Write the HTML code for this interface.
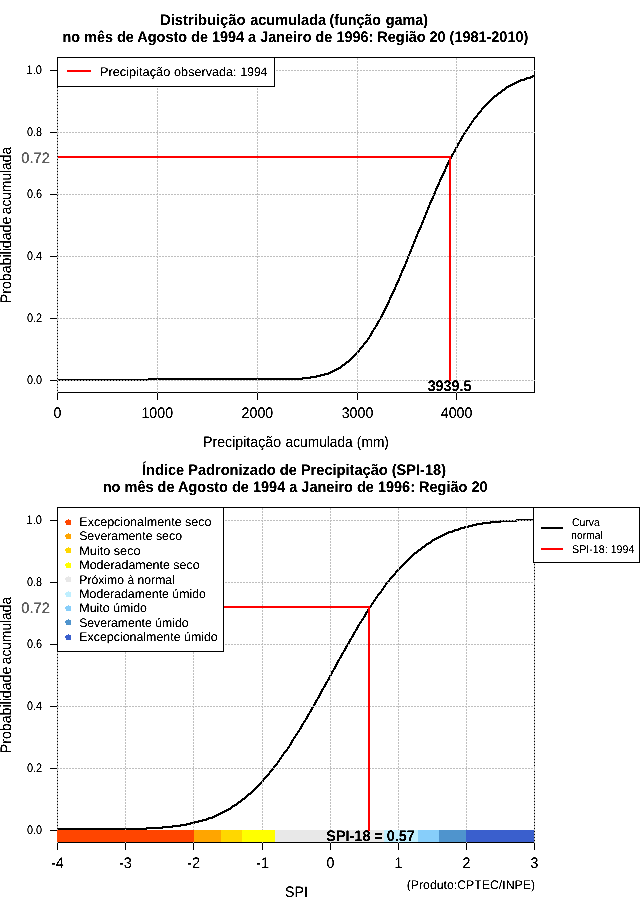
<!DOCTYPE html>
<html lang="pt"><head><meta charset="utf-8"><title>SPI-18</title>
<style>
html,body{margin:0;padding:0;background:#fff}
body{width:640px;height:900px;overflow:hidden}
svg{display:block;font-family:"Liberation Sans",Arial,Helvetica,sans-serif;fill:#000}
text{stroke:#000;stroke-width:0px;text-rendering:geometricPrecision}
.k{fill:#000;shape-rendering:crispEdges}
.bx{stroke:#000;stroke-width:1;fill:none;shape-rendering:crispEdges}
.g{stroke:#bebebe;stroke-width:1;fill:none;stroke-dasharray:2 1;shape-rendering:crispEdges}
.c{stroke:#000;stroke-width:2.15;fill:none;stroke-linejoin:round;shape-rendering:crispEdges}
.r{fill:#ff0000;shape-rendering:crispEdges}
.lb{fill:#fff;stroke:#000;stroke-width:1;shape-rendering:crispEdges}
</style></head><body>
<svg width="640" height="900" viewBox="0 0 640 900">
<defs><filter id="bw" x="0" y="0" width="640" height="900" filterUnits="userSpaceOnUse" color-interpolation-filters="sRGB"><feComponentTransfer><feFuncA type="linear" slope="3" intercept="-0.8"/></feComponentTransfer></filter></defs>
<rect width="640" height="900" fill="#fff"/>
<rect class="bx" x="57.5" y="57.5" width="477" height="335"/>
<path class="k" d="M532 75h3v1h-3zM530 76h5v1h-5zM526 77h7v1h-7zM524 78h7v1h-7zM520 79h7v1h-7zM518 80h7v1h-7zM516 81h5v1h-5zM514 82h5v1h-5zM512 83h5v1h-5zM510 84h5v1h-5zM508 85h5v1h-5zM506 86h5v1h-5zM505 87h4v1h-4zM504 88h3v1h-3zM502 89h4v1h-4zM501 90h4v1h-4zM500 91h3v1h-3zM498 92h4v1h-4zM497 93h4v1h-4zM496 94h3v1h-3zM494 95h4v1h-4zM493 96h4v1h-4zM492 97h3v1h-3zM491 98h3v1h-3zM490 99h3v1h-3zM489 100h3v1h-3zM488 101h3v1h-3zM487 102h3v1h-3zM486 103h3v1h-3zM485 104h3v1h-3zM484 105h3v1h-3zM483 106h3v1h-3zM482 107h3v1h-3zM481 108h3v1h-3zM481 109h2v1h-2zM480 110h2v1h-2zM479 111h3v1h-3zM478 112h3v1h-3zM477 113h3v1h-3zM477 114h2v1h-2zM476 115h2v1h-2zM475 116h3v1h-3zM474 117h3v1h-3zM473 118h3v1h-3zM473 119h2v1h-2zM472 120h2v1h-2zM471 121h3v1h-3zM471 122h2v1h-2zM470 123h2v1h-2zM469 124h3v1h-3zM469 125h2v1h-2zM468 126h2v1h-2zM467 127h3v1h-3zM467 128h2v1h-2zM466 129h2v1h-2zM465 130h3v1h-3zM465 131h2v1h-2zM464 132h2v1h-2zM463 133h3v1h-3zM463 134h2v1h-2zM462 135h2v1h-2zM461 136h3v1h-3zM461 137h2v1h-2zM460 138h3v1h-3zM460 139h2v1h-2zM459 140h3v1h-3zM459 141h2v1h-2zM458 142h2v1h-2zM457 143h3v1h-3zM457 144h2v1h-2zM456 145h3v1h-3zM456 146h2v1h-2zM455 147h3v1h-3zM455 148h2v1h-2zM454 149h3v1h-3zM454 150h2v1h-2zM453 151h3v1h-3zM453 152h2v1h-2zM452 153h2v1h-2zM451 154h3v1h-3zM451 155h2v1h-2zM450 156h3v1h-3zM450 157h2v1h-2zM449 158h3v1h-3zM449 159h2v1h-2zM448 160h3v1h-3zM448 161h2v1h-2zM447 162h3v1h-3zM447 163h2v1h-2zM446 164h3v1h-3zM446 165h2v1h-2zM445 166h3v1h-3zM445 167h2v1h-2zM445 168h2v1h-2zM444 169h2v1h-2zM444 170h2v1h-2zM443 171h3v1h-3zM443 172h2v1h-2zM442 173h3v1h-3zM442 174h2v1h-2zM441 175h3v1h-3zM441 176h2v1h-2zM440 177h3v1h-3zM440 178h2v1h-2zM439 179h3v1h-3zM439 180h2v1h-2zM439 181h2v1h-2zM438 182h2v1h-2zM438 183h2v1h-2zM437 184h3v1h-3zM437 185h2v1h-2zM436 186h3v1h-3zM436 187h2v1h-2zM435 188h3v1h-3zM435 189h2v1h-2zM435 190h2v1h-2zM434 191h2v1h-2zM434 192h2v1h-2zM433 193h3v1h-3zM433 194h2v1h-2zM433 195h2v1h-2zM432 196h2v1h-2zM432 197h2v1h-2zM431 198h3v1h-3zM431 199h2v1h-2zM430 200h3v1h-3zM430 201h2v1h-2zM429 202h3v1h-3zM429 203h2v1h-2zM429 204h2v1h-2zM428 205h2v1h-2zM428 206h2v1h-2zM427 207h3v1h-3zM427 208h2v1h-2zM427 209h2v1h-2zM426 210h2v1h-2zM426 211h2v1h-2zM425 212h3v1h-3zM425 213h2v1h-2zM425 214h2v1h-2zM424 215h2v1h-2zM424 216h2v1h-2zM423 217h3v1h-3zM423 218h2v1h-2zM423 219h2v1h-2zM422 220h2v1h-2zM422 221h2v1h-2zM421 222h3v1h-3zM421 223h2v1h-2zM421 224h2v1h-2zM420 225h2v1h-2zM420 226h2v1h-2zM419 227h3v1h-3zM419 228h2v1h-2zM418 229h3v1h-3zM418 230h2v1h-2zM417 231h3v1h-3zM417 232h2v1h-2zM417 233h2v1h-2zM416 234h2v1h-2zM416 235h2v1h-2zM415 236h3v1h-3zM415 237h2v1h-2zM415 238h2v1h-2zM414 239h2v1h-2zM414 240h2v1h-2zM413 241h3v1h-3zM413 242h2v1h-2zM413 243h2v1h-2zM412 244h2v1h-2zM412 245h2v1h-2zM411 246h3v1h-3zM411 247h2v1h-2zM411 248h2v1h-2zM410 249h2v1h-2zM410 250h2v1h-2zM409 251h3v1h-3zM409 252h2v1h-2zM409 253h2v1h-2zM408 254h2v1h-2zM408 255h2v1h-2zM407 256h3v1h-3zM407 257h2v1h-2zM407 258h2v1h-2zM406 259h2v1h-2zM406 260h2v1h-2zM405 261h3v1h-3zM405 262h2v1h-2zM405 263h2v1h-2zM404 264h2v1h-2zM404 265h2v1h-2zM403 266h3v1h-3zM403 267h2v1h-2zM402 268h3v1h-3zM402 269h2v1h-2zM401 270h3v1h-3zM401 271h2v1h-2zM401 272h2v1h-2zM400 273h2v1h-2zM400 274h2v1h-2zM399 275h3v1h-3zM399 276h2v1h-2zM399 277h2v1h-2zM398 278h2v1h-2zM398 279h2v1h-2zM397 280h3v1h-3zM397 281h2v1h-2zM396 282h3v1h-3zM396 283h2v1h-2zM395 284h3v1h-3zM395 285h2v1h-2zM395 286h2v1h-2zM394 287h2v1h-2zM394 288h2v1h-2zM393 289h3v1h-3zM393 290h2v1h-2zM392 291h3v1h-3zM392 292h2v1h-2zM391 293h3v1h-3zM391 294h2v1h-2zM390 295h3v1h-3zM390 296h2v1h-2zM389 297h3v1h-3zM389 298h2v1h-2zM389 299h2v1h-2zM388 300h2v1h-2zM388 301h2v1h-2zM387 302h3v1h-3zM387 303h2v1h-2zM386 304h3v1h-3zM386 305h2v1h-2zM385 306h3v1h-3zM385 307h2v1h-2zM384 308h3v1h-3zM384 309h2v1h-2zM383 310h3v1h-3zM383 311h2v1h-2zM382 312h3v1h-3zM382 313h2v1h-2zM381 314h3v1h-3zM381 315h2v1h-2zM380 316h3v1h-3zM380 317h2v1h-2zM379 318h3v1h-3zM379 319h2v1h-2zM378 320h2v1h-2zM377 321h3v1h-3zM377 322h2v1h-2zM376 323h3v1h-3zM376 324h2v1h-2zM375 325h3v1h-3zM375 326h2v1h-2zM374 327h2v1h-2zM373 328h3v1h-3zM373 329h2v1h-2zM372 330h2v1h-2zM371 331h3v1h-3zM371 332h2v1h-2zM370 333h3v1h-3zM370 334h2v1h-2zM369 335h3v1h-3zM369 336h2v1h-2zM368 337h2v1h-2zM367 338h3v1h-3zM367 339h2v1h-2zM366 340h2v1h-2zM365 341h3v1h-3zM364 342h3v1h-3zM363 343h3v1h-3zM363 344h2v1h-2zM362 345h2v1h-2zM361 346h3v1h-3zM360 347h3v1h-3zM359 348h3v1h-3zM359 349h2v1h-2zM358 350h2v1h-2zM357 351h3v1h-3zM356 352h3v1h-3zM355 353h3v1h-3zM354 354h3v1h-3zM353 355h3v1h-3zM352 356h3v1h-3zM351 357h3v1h-3zM350 358h3v1h-3zM349 359h3v1h-3zM348 360h3v1h-3zM346 361h4v1h-4zM345 362h4v1h-4zM344 363h3v1h-3zM342 364h4v1h-4zM341 365h4v1h-4zM340 366h3v1h-3zM338 367h4v1h-4zM336 368h5v1h-5zM334 369h5v1h-5zM332 370h5v1h-5zM330 371h5v1h-5zM328 372h5v1h-5zM324 373h7v1h-7zM320 374h9v1h-9zM316 375h9v1h-9zM310 376h11v1h-11zM302 377h15v1h-15zM148 378h163v1h-163zM58 379h245v1h-245zM57 380h92v1h-92z"/>
<rect class="k" x="57" y="393" width="1" height="7"/>
<rect class="k" x="157" y="393" width="1" height="7"/>
<rect class="k" x="257" y="393" width="1" height="7"/>
<rect class="k" x="357" y="393" width="1" height="7"/>
<rect class="k" x="456" y="393" width="1" height="7"/>
<rect class="k" x="50" y="380" width="7" height="1"/>
<rect class="k" x="50" y="318" width="7" height="1"/>
<rect class="k" x="50" y="256" width="7" height="1"/>
<rect class="k" x="50" y="194" width="7" height="1"/>
<rect class="k" x="50" y="132" width="7" height="1"/>
<rect class="k" x="50" y="70" width="7" height="1"/>
<line class="g" x1="57.5" y1="393" x2="57.5" y2="57"/>
<line class="g" x1="157.5" y1="393" x2="157.5" y2="57"/>
<line class="g" x1="257.5" y1="393" x2="257.5" y2="57"/>
<line class="g" x1="357.5" y1="393" x2="357.5" y2="57"/>
<line class="g" x1="456.5" y1="393" x2="456.5" y2="57"/>
<line class="g" x1="57" y1="380.5" x2="535" y2="380.5"/>
<line class="g" x1="57" y1="318.5" x2="535" y2="318.5"/>
<line class="g" x1="57" y1="256.5" x2="535" y2="256.5"/>
<line class="g" x1="57" y1="194.5" x2="535" y2="194.5"/>
<line class="g" x1="57" y1="132.5" x2="535" y2="132.5"/>
<line class="g" x1="57" y1="70.5" x2="535" y2="70.5"/>
<rect class="r" x="58" y="156" width="392" height="2"/>
<rect class="r" x="449" y="156" width="2" height="225"/>
<rect class="lb" x="57.5" y="57.5" width="217" height="29"/>
<rect class="r" x="67" y="70" width="24" height="2"/>
<rect class="bx" x="57.5" y="507.5" width="477" height="335"/>
<path class="k" d="M516 519h19v1h-19zM500 520h35v1h-35zM490 521h27v1h-27zM482 522h19v1h-19zM476 523h15v1h-15zM472 524h11v1h-11zM468 525h9v1h-9zM464 526h9v1h-9zM460 527h9v1h-9zM458 528h7v1h-7zM454 529h7v1h-7zM452 530h7v1h-7zM448 531h7v1h-7zM446 532h7v1h-7zM444 533h5v1h-5zM442 534h5v1h-5zM440 535h5v1h-5zM438 536h5v1h-5zM436 537h5v1h-5zM434 538h5v1h-5zM432 539h5v1h-5zM431 540h4v1h-4zM430 541h3v1h-3zM428 542h4v1h-4zM426 543h5v1h-5zM425 544h4v1h-4zM424 545h3v1h-3zM422 546h4v1h-4zM421 547h4v1h-4zM420 548h3v1h-3zM418 549h4v1h-4zM417 550h4v1h-4zM416 551h3v1h-3zM414 552h4v1h-4zM413 553h4v1h-4zM412 554h3v1h-3zM411 555h3v1h-3zM410 556h3v1h-3zM409 557h3v1h-3zM408 558h3v1h-3zM407 559h3v1h-3zM406 560h3v1h-3zM405 561h3v1h-3zM404 562h3v1h-3zM403 563h3v1h-3zM402 564h3v1h-3zM401 565h3v1h-3zM400 566h3v1h-3zM399 567h3v1h-3zM398 568h3v1h-3zM397 569h3v1h-3zM396 570h3v1h-3zM395 571h3v1h-3zM395 572h2v1h-2zM394 573h2v1h-2zM393 574h3v1h-3zM392 575h3v1h-3zM391 576h3v1h-3zM390 577h3v1h-3zM389 578h3v1h-3zM389 579h2v1h-2zM388 580h2v1h-2zM387 581h3v1h-3zM386 582h3v1h-3zM385 583h3v1h-3zM385 584h2v1h-2zM384 585h2v1h-2zM383 586h3v1h-3zM383 587h2v1h-2zM382 588h2v1h-2zM381 589h3v1h-3zM381 590h2v1h-2zM380 591h2v1h-2zM379 592h3v1h-3zM378 593h3v1h-3zM377 594h3v1h-3zM377 595h2v1h-2zM376 596h2v1h-2zM375 597h3v1h-3zM375 598h2v1h-2zM374 599h2v1h-2zM373 600h3v1h-3zM373 601h2v1h-2zM372 602h2v1h-2zM371 603h3v1h-3zM371 604h2v1h-2zM370 605h2v1h-2zM369 606h3v1h-3zM369 607h2v1h-2zM368 608h2v1h-2zM367 609h3v1h-3zM367 610h2v1h-2zM366 611h2v1h-2zM365 612h3v1h-3zM365 613h2v1h-2zM364 614h3v1h-3zM364 615h2v1h-2zM363 616h3v1h-3zM363 617h2v1h-2zM362 618h2v1h-2zM361 619h3v1h-3zM361 620h2v1h-2zM360 621h2v1h-2zM359 622h3v1h-3zM359 623h2v1h-2zM358 624h2v1h-2zM357 625h3v1h-3zM357 626h2v1h-2zM356 627h3v1h-3zM356 628h2v1h-2zM355 629h3v1h-3zM355 630h2v1h-2zM354 631h2v1h-2zM353 632h3v1h-3zM353 633h2v1h-2zM352 634h3v1h-3zM352 635h2v1h-2zM351 636h3v1h-3zM351 637h2v1h-2zM350 638h2v1h-2zM349 639h3v1h-3zM349 640h2v1h-2zM348 641h3v1h-3zM348 642h2v1h-2zM347 643h3v1h-3zM347 644h2v1h-2zM346 645h2v1h-2zM345 646h3v1h-3zM345 647h2v1h-2zM344 648h3v1h-3zM344 649h2v1h-2zM343 650h3v1h-3zM343 651h2v1h-2zM342 652h2v1h-2zM341 653h3v1h-3zM341 654h2v1h-2zM340 655h3v1h-3zM340 656h2v1h-2zM339 657h3v1h-3zM339 658h2v1h-2zM338 659h2v1h-2zM337 660h3v1h-3zM337 661h2v1h-2zM336 662h3v1h-3zM336 663h2v1h-2zM335 664h3v1h-3zM335 665h2v1h-2zM334 666h3v1h-3zM334 667h2v1h-2zM333 668h3v1h-3zM333 669h2v1h-2zM332 670h2v1h-2zM331 671h3v1h-3zM331 672h2v1h-2zM330 673h3v1h-3zM330 674h2v1h-2zM329 675h3v1h-3zM329 676h2v1h-2zM328 677h3v1h-3zM328 678h2v1h-2zM327 679h3v1h-3zM327 680h2v1h-2zM326 681h2v1h-2zM325 682h3v1h-3zM325 683h2v1h-2zM324 684h3v1h-3zM324 685h2v1h-2zM323 686h3v1h-3zM323 687h2v1h-2zM322 688h2v1h-2zM321 689h3v1h-3zM321 690h2v1h-2zM320 691h3v1h-3zM320 692h2v1h-2zM319 693h3v1h-3zM319 694h2v1h-2zM318 695h3v1h-3zM318 696h2v1h-2zM317 697h3v1h-3zM317 698h2v1h-2zM316 699h2v1h-2zM315 700h3v1h-3zM315 701h2v1h-2zM314 702h3v1h-3zM314 703h2v1h-2zM313 704h3v1h-3zM313 705h2v1h-2zM312 706h2v1h-2zM311 707h3v1h-3zM311 708h2v1h-2zM310 709h3v1h-3zM310 710h2v1h-2zM309 711h3v1h-3zM309 712h2v1h-2zM308 713h2v1h-2zM307 714h3v1h-3zM307 715h2v1h-2zM306 716h3v1h-3zM306 717h2v1h-2zM305 718h3v1h-3zM305 719h2v1h-2zM304 720h2v1h-2zM303 721h3v1h-3zM303 722h2v1h-2zM302 723h2v1h-2zM301 724h3v1h-3zM301 725h2v1h-2zM300 726h3v1h-3zM300 727h2v1h-2zM299 728h3v1h-3zM299 729h2v1h-2zM298 730h2v1h-2zM297 731h3v1h-3zM297 732h2v1h-2zM296 733h2v1h-2zM295 734h3v1h-3zM295 735h2v1h-2zM294 736h2v1h-2zM293 737h3v1h-3zM293 738h2v1h-2zM292 739h2v1h-2zM291 740h3v1h-3zM291 741h2v1h-2zM290 742h3v1h-3zM290 743h2v1h-2zM289 744h3v1h-3zM289 745h2v1h-2zM288 746h2v1h-2zM287 747h3v1h-3zM287 748h2v1h-2zM286 749h2v1h-2zM285 750h3v1h-3zM284 751h3v1h-3zM283 752h3v1h-3zM283 753h2v1h-2zM282 754h2v1h-2zM281 755h3v1h-3zM281 756h2v1h-2zM280 757h2v1h-2zM279 758h3v1h-3zM279 759h2v1h-2zM278 760h2v1h-2zM277 761h3v1h-3zM277 762h2v1h-2zM276 763h2v1h-2zM275 764h3v1h-3zM274 765h3v1h-3zM273 766h3v1h-3zM273 767h2v1h-2zM272 768h2v1h-2zM271 769h3v1h-3zM270 770h3v1h-3zM269 771h3v1h-3zM269 772h2v1h-2zM268 773h2v1h-2zM267 774h3v1h-3zM266 775h3v1h-3zM265 776h3v1h-3zM264 777h3v1h-3zM263 778h3v1h-3zM263 779h2v1h-2zM262 780h2v1h-2zM261 781h3v1h-3zM260 782h3v1h-3zM259 783h3v1h-3zM258 784h3v1h-3zM257 785h3v1h-3zM256 786h3v1h-3zM255 787h3v1h-3zM254 788h3v1h-3zM253 789h3v1h-3zM252 790h3v1h-3zM251 791h3v1h-3zM250 792h3v1h-3zM248 793h4v1h-4zM247 794h4v1h-4zM246 795h3v1h-3zM245 796h3v1h-3zM244 797h3v1h-3zM242 798h4v1h-4zM241 799h4v1h-4zM240 800h3v1h-3zM238 801h4v1h-4zM237 802h4v1h-4zM236 803h3v1h-3zM234 804h4v1h-4zM232 805h5v1h-5zM231 806h4v1h-4zM230 807h3v1h-3zM228 808h4v1h-4zM226 809h5v1h-5zM224 810h5v1h-5zM222 811h5v1h-5zM220 812h5v1h-5zM218 813h5v1h-5zM216 814h5v1h-5zM214 815h5v1h-5zM212 816h5v1h-5zM208 817h7v1h-7zM206 818h7v1h-7zM202 819h7v1h-7zM198 820h9v1h-9zM194 821h9v1h-9zM190 822h9v1h-9zM186 823h9v1h-9zM180 824h11v1h-11zM172 825h15v1h-15zM162 826h19v1h-19zM146 827h27v1h-27zM58 828h105v1h-105zM57 829h90v1h-90z"/>
<rect class="k" x="57" y="843" width="1" height="7"/>
<rect class="k" x="125" y="843" width="1" height="7"/>
<rect class="k" x="193" y="843" width="1" height="7"/>
<rect class="k" x="262" y="843" width="1" height="7"/>
<rect class="k" x="330" y="843" width="1" height="7"/>
<rect class="k" x="398" y="843" width="1" height="7"/>
<rect class="k" x="466" y="843" width="1" height="7"/>
<rect class="k" x="534" y="843" width="1" height="7"/>
<rect class="k" x="50" y="830" width="7" height="1"/>
<rect class="k" x="50" y="768" width="7" height="1"/>
<rect class="k" x="50" y="706" width="7" height="1"/>
<rect class="k" x="50" y="644" width="7" height="1"/>
<rect class="k" x="50" y="582" width="7" height="1"/>
<rect class="k" x="50" y="520" width="7" height="1"/>
<line class="g" x1="57.5" y1="843" x2="57.5" y2="507"/>
<line class="g" x1="125.5" y1="843" x2="125.5" y2="507"/>
<line class="g" x1="193.5" y1="843" x2="193.5" y2="507"/>
<line class="g" x1="262.5" y1="843" x2="262.5" y2="507"/>
<line class="g" x1="330.5" y1="843" x2="330.5" y2="507"/>
<line class="g" x1="398.5" y1="843" x2="398.5" y2="507"/>
<line class="g" x1="466.5" y1="843" x2="466.5" y2="507"/>
<line class="g" x1="534.5" y1="843" x2="534.5" y2="507"/>
<line class="g" x1="57" y1="830.5" x2="535" y2="830.5"/>
<line class="g" x1="57" y1="768.5" x2="535" y2="768.5"/>
<line class="g" x1="57" y1="706.5" x2="535" y2="706.5"/>
<line class="g" x1="57" y1="644.5" x2="535" y2="644.5"/>
<line class="g" x1="57" y1="582.5" x2="535" y2="582.5"/>
<line class="g" x1="57" y1="520.5" x2="535" y2="520.5"/>
<rect x="57" y="830" width="137" height="12" fill="#ff4500" shape-rendering="crispEdges"/>
<rect x="194" y="830" width="27" height="12" fill="#ffa500" shape-rendering="crispEdges"/>
<rect x="221" y="830" width="21" height="12" fill="#ffd700" shape-rendering="crispEdges"/>
<rect x="242" y="830" width="33" height="12" fill="#ffff00" shape-rendering="crispEdges"/>
<rect x="275" y="830" width="109" height="12" fill="#e8e8e8" shape-rendering="crispEdges"/>
<rect x="384" y="830" width="34" height="12" fill="#bfefff" shape-rendering="crispEdges"/>
<rect x="418" y="830" width="21" height="12" fill="#87cefa" shape-rendering="crispEdges"/>
<rect x="439" y="830" width="27" height="12" fill="#4f94cd" shape-rendering="crispEdges"/>
<rect x="466" y="830" width="68" height="12" fill="#3a5fcd" shape-rendering="crispEdges"/>
<rect class="r" x="58" y="606" width="311" height="2"/>
<rect class="r" x="368" y="606" width="2" height="225"/>
<rect class="lb" x="57.5" y="507.5" width="166" height="144"/>
<path fill="#ff4500" shape-rendering="crispEdges" d="M66 520h5v5h-5zM65 521h1v2h-1zM68 519h1v1h-1z"/>
<path fill="#ffa500" shape-rendering="crispEdges" d="M66 534h5v5h-5zM65 535h1v2h-1zM68 533h1v1h-1z"/>
<path fill="#ffd700" shape-rendering="crispEdges" d="M66 548h5v5h-5zM65 549h1v2h-1zM68 547h1v1h-1z"/>
<path fill="#ffff00" shape-rendering="crispEdges" d="M66 563h5v5h-5zM65 564h1v2h-1zM68 562h1v1h-1z"/>
<path fill="#e8e8e8" shape-rendering="crispEdges" d="M66 577h5v5h-5zM65 578h1v2h-1zM68 576h1v1h-1z"/>
<path fill="#bfefff" shape-rendering="crispEdges" d="M66 592h5v5h-5zM65 593h1v2h-1zM68 591h1v1h-1z"/>
<path fill="#87cefa" shape-rendering="crispEdges" d="M66 606h5v5h-5zM65 607h1v2h-1zM68 605h1v1h-1z"/>
<path fill="#4f94cd" shape-rendering="crispEdges" d="M66 620h5v5h-5zM65 621h1v2h-1zM68 619h1v1h-1z"/>
<path fill="#3a5fcd" shape-rendering="crispEdges" d="M66 635h5v5h-5zM65 636h1v2h-1zM68 634h1v1h-1z"/>
<rect class="lb" x="533.5" y="507.5" width="106" height="55"/>
<rect class="k" x="541" y="527" width="22" height="2"/>
<rect class="r" x="541" y="548" width="22" height="2"/>
<g filter="url(#bw)">
<text transform="translate(26.97,383.75) scale(0.8672,1)" style="font-size:12.50px">0.0</text>
<text transform="translate(26.96,321.75) scale(0.8738,1)" style="font-size:12.50px">0.2</text>
<text transform="translate(26.97,259.75) scale(0.8606,1)" style="font-size:12.50px">0.4</text>
<text transform="translate(26.96,197.75) scale(0.8705,1)" style="font-size:12.50px">0.6</text>
<text transform="translate(26.97,135.75) scale(0.8672,1)" style="font-size:12.50px">0.8</text>
<text transform="translate(26.56,73.75) scale(0.8910,1)" style="font-size:12.50px">1.0</text>
<text transform="translate(10.75,302.00) rotate(-90) scale(0.9128,1)" style="font-size:15.28px" xml:space="preserve"><tspan x="-1.24" textLength="98.93" lengthAdjust="spacingAndGlyphs">Probabilidade </tspan><tspan x="96.28" textLength="73.56" lengthAdjust="spacingAndGlyphs">acumulada</tspan></text>
<text transform="translate(21.21,162.75) scale(0.9811,1)" style="font-size:15.00px;fill:#606060;stroke:#606060;stroke-width:0.2px">0.72</text>
<text transform="translate(53.56,417.75) scale(0.9300,1)" style="font-size:15.28px">0</text>
<text transform="translate(141.44,417.75) scale(0.9300,1)" style="font-size:15.28px">1000</text>
<text transform="translate(241.62,417.75) scale(0.9300,1)" style="font-size:15.28px">2000</text>
<text transform="translate(341.69,417.75) scale(0.9300,1)" style="font-size:15.28px">3000</text>
<text transform="translate(440.80,417.75) scale(0.9300,1)" style="font-size:15.28px">4000</text>
<text transform="translate(427.64,390.75) scale(0.9394,1)" style="font-size:15.28px;font-weight:bold;stroke:none">3939.5</text>
<text transform="translate(0,24.75) scale(0.9514,1)" style="font-size:15.28px;font-weight:bold;stroke:none" xml:space="preserve"><tspan x="168.22" textLength="94.23" lengthAdjust="spacingAndGlyphs">Distribuição </tspan><tspan x="262.95" textLength="84.11" lengthAdjust="spacingAndGlyphs">acumulada </tspan><tspan x="346.43" textLength="58.06" lengthAdjust="spacingAndGlyphs">(função </tspan><tspan x="405.44" textLength="44.57" lengthAdjust="spacingAndGlyphs">gama)</tspan></text>
<text transform="translate(62.46,41.75) scale(0.9460,1)" style="font-size:15.28px;font-weight:bold;stroke:none">no mês de Agosto de 1994 a Janeiro de 1996: Região 20 (1981-2010)</text>
<text transform="translate(0,446.75) scale(0.9117,1)" style="font-size:15.28px" xml:space="preserve"><tspan x="222.63" textLength="89.93" lengthAdjust="spacingAndGlyphs">Precipitação </tspan><tspan x="313.25" textLength="77.84" lengthAdjust="spacingAndGlyphs">acumulada </tspan><tspan x="391.45" textLength="35.19" lengthAdjust="spacingAndGlyphs">(mm)</tspan></text>
<text transform="translate(0,75.75) scale(1.0069,1)" style="font-size:12.50px" xml:space="preserve"><tspan x="99.29" textLength="73.42" lengthAdjust="spacingAndGlyphs">Precipitação </tspan><tspan x="172.90" textLength="65.53" lengthAdjust="spacingAndGlyphs">observada: </tspan><tspan x="238.95" textLength="26.47" lengthAdjust="spacingAndGlyphs">1994</tspan></text>
<text transform="translate(26.97,833.75) scale(0.8672,1)" style="font-size:12.50px">0.0</text>
<text transform="translate(26.96,771.75) scale(0.8738,1)" style="font-size:12.50px">0.2</text>
<text transform="translate(26.97,709.75) scale(0.8606,1)" style="font-size:12.50px">0.4</text>
<text transform="translate(26.96,647.75) scale(0.8705,1)" style="font-size:12.50px">0.6</text>
<text transform="translate(26.97,585.75) scale(0.8672,1)" style="font-size:12.50px">0.8</text>
<text transform="translate(26.56,523.75) scale(0.8910,1)" style="font-size:12.50px">1.0</text>
<text transform="translate(10.75,752.00) rotate(-90) scale(0.9128,1)" style="font-size:15.28px" xml:space="preserve"><tspan x="-1.24" textLength="98.93" lengthAdjust="spacingAndGlyphs">Probabilidade </tspan><tspan x="96.28" textLength="73.56" lengthAdjust="spacingAndGlyphs">acumulada</tspan></text>
<text transform="translate(21.21,612.75) scale(0.9811,1)" style="font-size:15.00px;fill:#606060;stroke:#606060;stroke-width:0.2px">0.72</text>
<text transform="translate(50.93,867.75) scale(0.9500,1)" style="font-size:15.28px">-4</text>
<text transform="translate(119.04,867.75) scale(0.9500,1)" style="font-size:15.28px">-3</text>
<text transform="translate(187.08,867.75) scale(0.9500,1)" style="font-size:15.28px">-2</text>
<text transform="translate(256.08,867.75) scale(0.9500,1)" style="font-size:15.28px">-1</text>
<text transform="translate(326.56,867.75) scale(0.9300,1)" style="font-size:15.28px">0</text>
<text transform="translate(394.38,867.75) scale(0.9300,1)" style="font-size:15.28px">1</text>
<text transform="translate(462.56,867.75) scale(0.9300,1)" style="font-size:15.28px">2</text>
<text transform="translate(530.59,867.75) scale(0.9300,1)" style="font-size:15.28px">3</text>
<text transform="translate(326.37,840.75) scale(0.9432,1)" style="font-size:15.28px;font-weight:bold;stroke:none">SPI-18 = 0.57</text>
<text transform="translate(141.97,474.75) scale(0.9559,1)" style="font-size:15.28px;font-weight:bold;stroke:none">Índice Padronizado de Precipitação (SPI-18)</text>
<text transform="translate(102.76,491.75) scale(0.9502,1)" style="font-size:15.28px;font-weight:bold;stroke:none">no mês de Agosto de 1994 a Janeiro de 1996: Região 20</text>
<text transform="translate(284.96,896.75) scale(0.9319,1)" style="font-size:15.28px">SPI</text>
<text transform="translate(406.76,889.25) scale(0.9821,1)" style="font-size:12.50px">(Produto:CPTEC/INPE)</text>
<text transform="translate(79.30,525.75) scale(1.0016,1)" style="font-size:12.50px">Excepcionalmente seco</text>
<text transform="translate(79.14,539.75) scale(0.9870,1)" style="font-size:12.50px">Severamente seco</text>
<text transform="translate(79.29,554.75) scale(1.0132,1)" style="font-size:12.50px">Muito seco</text>
<text transform="translate(79.31,568.75) scale(0.9949,1)" style="font-size:12.50px">Moderadamente seco</text>
<text transform="translate(79.33,583.75) scale(0.9744,1)" style="font-size:12.50px">Próximo à normal</text>
<text transform="translate(79.32,597.75) scale(0.9840,1)" style="font-size:12.50px">Moderadamente úmido</text>
<text transform="translate(79.31,611.75) scale(0.9939,1)" style="font-size:12.50px">Muito úmido</text>
<text transform="translate(79.15,626.75) scale(0.9772,1)" style="font-size:12.50px">Severamente úmido</text>
<text transform="translate(79.31,640.75) scale(0.9911,1)" style="font-size:12.50px">Excepcionalmente úmido</text>
<text transform="translate(572.08,525.75) scale(0.9361,1)" style="font-size:11.11px">Curva</text>
<text transform="translate(571.33,538.75) scale(0.9231,1)" style="font-size:11.11px">normal</text>
<text transform="translate(572.12,552.75) scale(0.9594,1)" style="font-size:11.11px">SPI-18: 1994</text>
</g>
</svg></body></html>
